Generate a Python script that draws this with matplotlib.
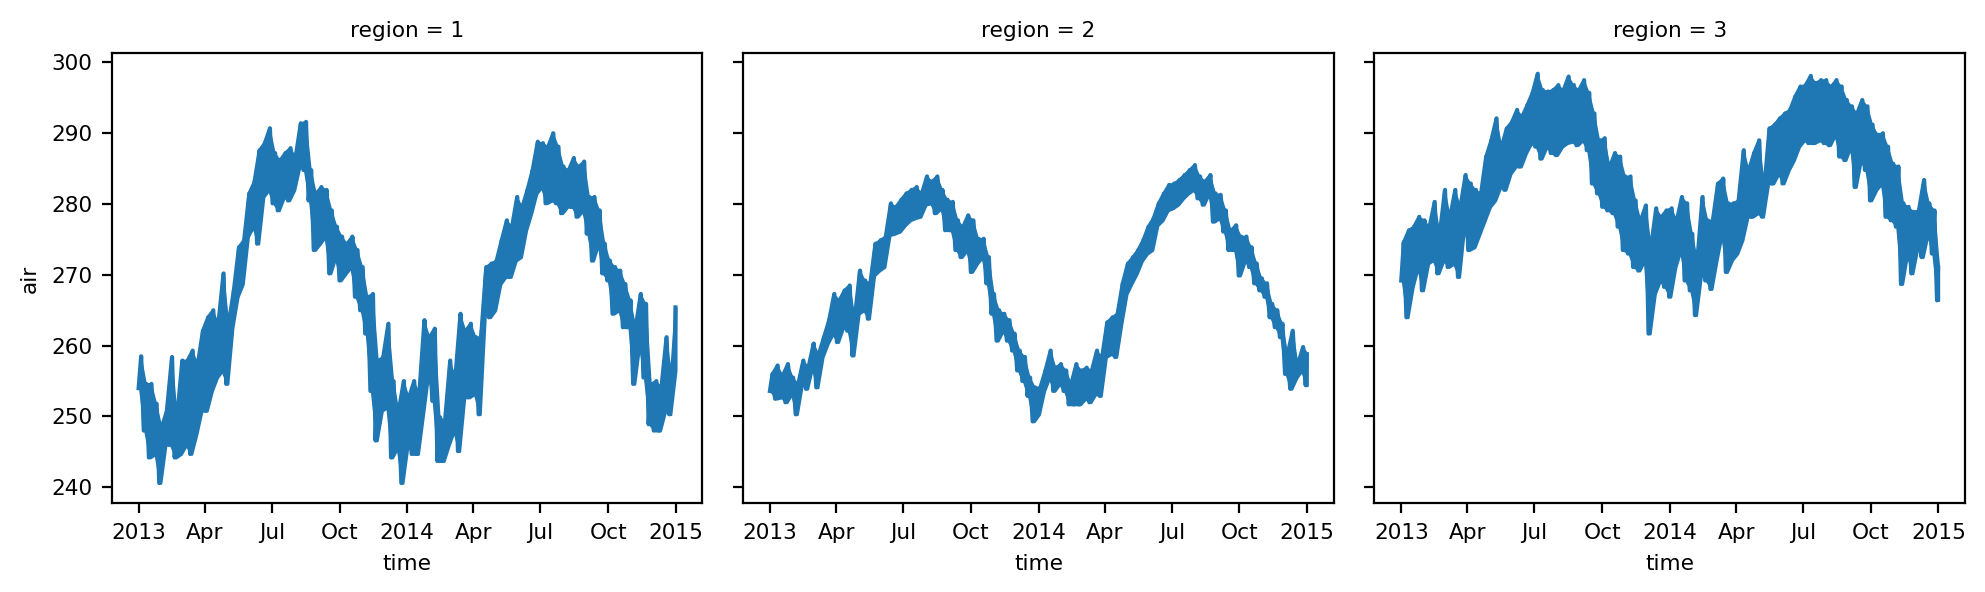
import numpy as np
import pandas as pd
import matplotlib
matplotlib.use("Agg")
from matplotlib import pyplot as plt
import matplotlib.dates as mdates

# weekly high / low values (2013: 52 weeks, 2014: 53 weeks)
region1_hi = [258.5, 254.6, 254.6, 251.8, 248.5, 250.8, 258.4, 249.9, 257.9, 257.9, 259.3, 257.4, 262.1,
              264.0, 265.0, 263.1, 270.2, 263.1, 267.8, 273.9, 274.9, 281.5, 283.1, 287.6, 288.6, 290.7,
              287.2, 286.2, 287.2, 287.9, 286.7, 291.4, 291.6, 284.8, 281.5, 282.4, 282.0, 279.1, 276.8,
              275.4, 274.4, 275.4, 273.5, 271.1, 266.9, 267.3, 257.9, 258.4, 263.1, 255.0, 250.8, 255.0,
              252.7, 255.0, 253.2, 263.6, 261.2, 262.4, 249.9, 249.4, 257.9, 255.5, 264.5, 262.1, 263.1,
              261.2, 261.2, 271.1, 271.6, 272.0, 274.9, 277.7, 276.8, 281.0, 279.6, 282.0, 284.8, 288.8,
              288.6, 288.1, 290.0, 288.1, 285.3, 284.8, 286.5, 285.3, 286.0, 281.0, 281.0, 279.1, 274.4,
              272.0, 271.1, 270.6, 268.7, 266.4, 262.6, 267.3, 265.9, 254.6, 255.0, 254.1, 261.2, 255.5,
              265.4]
region1_lo = [254.0, 248.0, 244.2, 244.7, 240.6, 246.0, 246.0, 244.2, 244.7, 246.0, 244.7, 247.5, 250.8,
              250.8, 253.6, 255.5, 256.5, 254.6, 262.6, 266.9, 268.7, 275.4, 276.8, 274.4, 281.0, 282.0,
              280.1, 279.1, 281.0, 280.5, 282.0, 285.3, 284.8, 280.5, 273.5, 274.4, 275.4, 270.2, 272.5,
              269.2, 270.2, 271.1, 266.9, 265.0, 261.7, 253.6, 246.6, 250.8, 251.3, 244.2, 245.6, 240.6,
              246.0, 244.7, 244.7, 250.3, 256.0, 252.2, 243.7, 243.7, 246.0, 248.0, 245.1, 252.7, 252.7,
              253.2, 250.3, 264.5, 264.0, 265.0, 268.7, 269.7, 269.7, 272.0, 272.5, 276.3, 278.7, 281.5,
              282.4, 280.1, 280.5, 280.1, 278.7, 279.6, 279.6, 278.2, 279.1, 275.8, 272.0, 274.4, 270.2,
              269.2, 264.5, 265.0, 262.6, 262.6, 254.6, 260.3, 255.5, 248.9, 248.0, 248.0, 250.8, 250.3,
              256.5]

region2_hi = [256.0, 257.2, 255.8, 257.4, 255.5, 254.6, 257.9, 257.0, 260.3, 258.8, 261.2, 263.6, 267.3,
              266.4, 267.8, 268.5, 264.0, 270.6, 269.2, 268.8, 274.4, 274.9, 275.4, 280.1, 279.6, 280.6,
              281.5, 282.0, 282.4, 281.5, 283.9, 283.2, 283.9, 282.0, 280.6, 280.3, 277.7, 276.8, 278.4,
              277.7, 275.1, 275.1, 272.5, 267.3, 265.0, 264.5, 263.6, 261.7, 259.3, 258.4, 255.5, 254.1,
              254.1, 256.5, 259.3, 256.9, 257.4, 256.5, 254.6, 257.4, 256.5, 256.9, 256.5, 259.3, 258.4,
              263.3, 264.0, 264.5, 268.8, 271.6, 272.5, 273.5, 274.9, 276.8, 278.0, 280.1, 281.5, 282.7,
              282.9, 283.4, 284.1, 284.8, 285.5, 283.9, 283.2, 284.1, 281.5, 281.3, 279.1, 276.3, 277.0,
              275.4, 275.4, 273.9, 271.6, 269.5, 268.8, 265.9, 265.0, 263.1, 258.8, 262.1, 257.4, 259.8,
              258.8]
region2_lo = [253.6, 252.5, 252.7, 252.0, 253.2, 250.3, 254.6, 253.9, 257.0, 254.1, 258.4, 260.3, 261.7,
              260.5, 262.6, 262.1, 258.6, 264.5, 265.0, 263.8, 269.9, 270.6, 271.1, 275.6, 275.8, 276.1,
              277.0, 277.7, 278.0, 278.2, 279.9, 280.1, 278.7, 279.4, 276.3, 276.3, 273.5, 272.5, 273.5,
              270.4, 271.6, 272.5, 268.8, 264.5, 260.7, 262.1, 260.7, 259.3, 256.5, 255.0, 252.9, 249.3,
              250.3, 253.6, 255.5, 253.6, 254.6, 253.6, 251.7, 251.7, 251.7, 252.5, 252.0, 253.2, 252.9,
              258.4, 258.8, 258.4, 263.1, 267.3, 268.8, 270.2, 272.0, 273.0, 273.5, 277.0, 277.7, 279.1,
              279.4, 279.9, 280.8, 281.5, 282.0, 280.8, 279.9, 281.5, 277.5, 278.0, 276.1, 273.5, 273.5,
              269.9, 272.0, 271.1, 268.8, 267.8, 266.9, 264.0, 262.6, 261.2, 256.0, 253.9, 255.5, 256.5,
              254.4]

region3_hi = [274.6, 276.3, 276.8, 278.2, 277.7, 276.8, 280.3, 275.8, 282.0, 278.2, 282.0, 279.6, 284.1,
              282.9, 282.0, 281.5, 286.7, 289.0, 292.1, 288.1, 290.7, 291.6, 293.3, 292.4, 294.0, 295.7,
              298.4, 296.1, 295.9, 296.1, 296.8, 296.1, 298.0, 296.8, 296.1, 297.5, 295.7, 292.8, 289.0,
              289.3, 285.3, 287.2, 286.7, 283.9, 283.9, 280.5, 277.7, 279.8, 273.9, 279.4, 278.2, 279.1,
              279.4, 277.7, 281.0, 280.1, 275.8, 272.1, 281.0, 277.7, 277.7, 282.9, 283.6, 280.1, 280.1,
              280.5, 287.6, 284.8, 287.2, 289.0, 282.4, 290.7, 291.2, 292.1, 292.8, 293.3, 295.2, 296.6,
              296.8, 298.1, 297.1, 297.5, 297.5, 296.6, 297.5, 296.6, 294.7, 293.8, 292.8, 294.7, 293.8,
              291.2, 289.8, 290.0, 288.1, 285.7, 285.3, 280.1, 279.6, 278.9, 279.1, 283.4, 280.1, 279.1,
              271.1]
region3_lo = [269.2, 264.0, 268.3, 271.1, 267.8, 271.6, 272.1, 270.2, 272.1, 271.1, 271.6, 269.7, 276.8,
              273.5, 273.9, 275.8, 277.7, 279.6, 280.5, 282.4, 282.0, 284.3, 285.3, 285.3, 287.2, 288.6,
              288.1, 286.4, 288.1, 287.2, 286.9, 288.1, 288.6, 288.8, 288.3, 289.0, 287.6, 282.9, 281.5,
              279.6, 279.1, 278.7, 276.8, 273.5, 273.0, 271.1, 270.6, 272.1, 261.7, 267.3, 269.2, 268.3,
              266.9, 271.1, 273.5, 269.2, 267.8, 264.3, 270.2, 269.2, 268.0, 272.1, 275.8, 270.4, 272.1,
              273.0, 274.9, 278.2, 278.2, 278.7, 278.2, 282.9, 282.9, 284.3, 282.9, 284.8, 286.2, 288.1,
              289.0, 288.6, 288.6, 289.0, 288.6, 288.3, 289.8, 286.7, 286.2, 288.1, 282.4, 286.2, 284.8,
              280.5, 282.0, 282.9, 278.2, 277.7, 276.8, 268.7, 273.0, 270.2, 273.9, 272.5, 275.8, 273.0,
              266.4]

regions = [1, 2, 3]
series = [(region1_hi, region1_lo), (region2_hi, region2_lo), (region3_hi, region3_lo)]

weeks = pd.date_range("2013-01-01", periods=len(region1_hi), freq="7D")
t_end = pd.Timestamp("2014-12-31 18:00")
t_lo = weeks
t_hi = weeks + pd.Timedelta(hours=84)
t_hi = t_hi.where(t_hi <= t_end, t_end - pd.Timedelta(hours=6))
t_mid = weeks + pd.Timedelta(hours=42)
t_mid = t_mid.where(t_mid <= t_end, t_end)

plt.rcParams["font.size"] = 7.8

fig, axes = plt.subplots(1, 3, sharey=True, figsize=(9.925, 2.96), dpi=200)
fig.subplots_adjust(left=0.0563, right=0.990, bottom=0.1495, top=0.910, wspace=0.0687)

for ax, reg, (hi, lo) in zip(axes, regions, series):
    # interleave the weekly lows and highs into one zig-zag line
    t = np.column_stack([t_lo.values, t_hi.values]).ravel()
    v = np.column_stack([lo, hi]).ravel()
    ax.plot(t, v, color="#1f77b4", linewidth=1.5)
    # the dense 6-hourly band between the weekly extremes
    ax.fill_between(t_mid, lo, hi, color="#1f77b4", linewidth=1.0, alpha=1)
    ax.set_title("region = {}".format(reg), fontsize=7.8)
    ax.set_xlabel("time")
    loc = mdates.MonthLocator(bymonth=[1, 4, 7, 10])
    ax.xaxis.set_major_locator(loc)
    ax.xaxis.set_major_formatter(mdates.ConciseDateFormatter(loc))

axes[0].set_ylabel("air")

plt.savefig("out.png", dpi=200)
